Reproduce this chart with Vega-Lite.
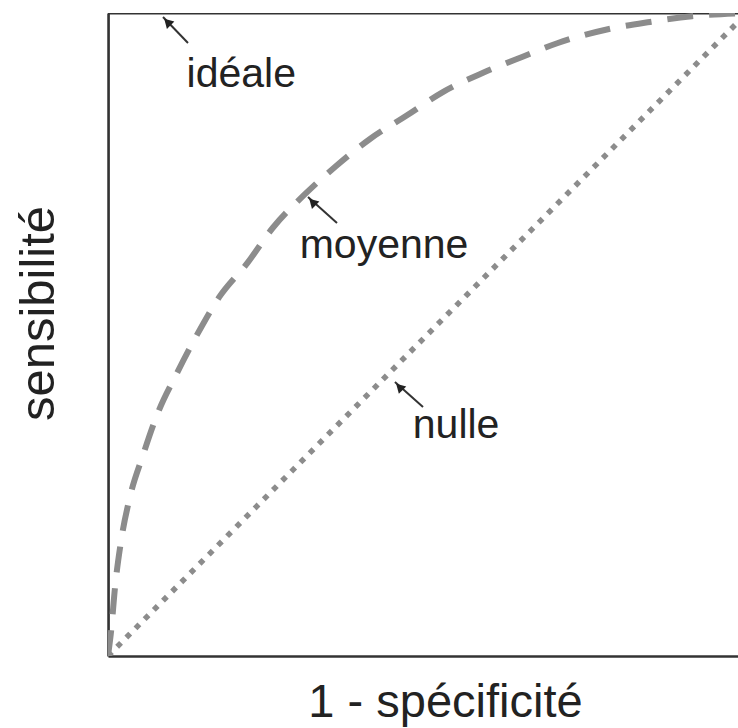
{
  "$schema": "https://vega.github.io/schema/vega-lite/v6.json",
  "width": 630,
  "height": 643,
  "autosize": {"type": "none"},
  "padding": {"left": 108, "top": 13, "right": 0, "bottom": 72},
  "background": "white",
  "config": {"view": {"stroke": null}},
  "datasets": {
    "curves": [
      {"s": "ideale", "o": 1, "x": 0, "y": 0},
      {"s": "ideale", "o": 2, "x": 0, "y": 1},
      {"s": "ideale", "o": 3, "x": 1, "y": 1},
      {"s": "nulle", "o": 1, "x": 0, "y": 0},
      {"s": "nulle", "o": 2, "x": 1, "y": 1},
      {"s": "moyenne", "o": 1, "x": 0, "y": 0},
      {"s": "moyenne", "o": 2, "x": 0.005, "y": 0.040},
      {"s": "moyenne", "o": 3, "x": 0.011, "y": 0.107},
      {"s": "moyenne", "o": 4, "x": 0.020, "y": 0.176},
      {"s": "moyenne", "o": 5, "x": 0.034, "y": 0.246},
      {"s": "moyenne", "o": 6, "x": 0.055, "y": 0.313},
      {"s": "moyenne", "o": 7, "x": 0.078, "y": 0.378},
      {"s": "moyenne", "o": 8, "x": 0.108, "y": 0.440},
      {"s": "moyenne", "o": 9, "x": 0.139, "y": 0.499},
      {"s": "moyenne", "o": 10, "x": 0.174, "y": 0.558},
      {"s": "moyenne", "o": 11, "x": 0.218, "y": 0.611},
      {"s": "moyenne", "o": 12, "x": 0.258, "y": 0.666},
      {"s": "moyenne", "o": 13, "x": 0.307, "y": 0.717},
      {"s": "moyenne", "o": 14, "x": 0.357, "y": 0.762},
      {"s": "moyenne", "o": 15, "x": 0.410, "y": 0.804},
      {"s": "moyenne", "o": 16, "x": 0.468, "y": 0.841},
      {"s": "moyenne", "o": 17, "x": 0.524, "y": 0.877},
      {"s": "moyenne", "o": 18, "x": 0.587, "y": 0.907},
      {"s": "moyenne", "o": 19, "x": 0.649, "y": 0.932},
      {"s": "moyenne", "o": 20, "x": 0.703, "y": 0.953},
      {"s": "moyenne", "o": 21, "x": 0.779, "y": 0.974},
      {"s": "moyenne", "o": 22, "x": 0.848, "y": 0.986},
      {"s": "moyenne", "o": 23, "x": 0.914, "y": 0.995},
      {"s": "moyenne", "o": 24, "x": 1, "y": 1}
    ],
    "labels": [
      {"label": "idéale", "x": 0.123, "y": 0.885},
      {"label": "moyenne", "x": 0.300, "y": 0.619},
      {"label": "nulle", "x": 0.477, "y": 0.339}
    ],
    "arrows": [
      {"x": 0.1252, "y": 0.9533, "x2": 0.0861, "y2": 0.9938, "hx": 0.0930, "hy": 0.9860},
      {"x": 0.3584, "y": 0.6734, "x2": 0.3130, "y2": 0.7138, "hx": 0.3200, "hy": 0.7060},
      {"x": 0.4930, "y": 0.3872, "x2": 0.4491, "y2": 0.4261, "hx": 0.4560, "hy": 0.4185}
    ]
  },
  "encoding": {
    "x": {
      "field": "x", "type": "quantitative",
      "scale": {"domain": [0, 0.986], "nice": false, "zero": false},
      "axis": {
        "title": "1 - spécificité", "ticks": false, "labels": false, "grid": false,
        "domainColor": "#333333", "domainWidth": 2.5,
        "titleFont": "Liberation Sans", "titleFontSize": 47, "titleFontWeight": "normal",
        "titleColor": "#222222", "titleX": 337, "titleY": 60,
        "titleBaseline": "alphabetic", "titleAlign": "center"
      }
    },
    "y": {
      "field": "y", "type": "quantitative",
      "scale": {"domain": [0, 1], "nice": false, "zero": false},
      "axis": {
        "title": "sensibilité", "ticks": false, "labels": false, "grid": false,
        "domainColor": "#333333", "domainWidth": 2.5,
        "titleFont": "Liberation Sans", "titleFontSize": 49, "titleFontWeight": "normal",
        "titleColor": "#222222", "titleX": -70, "titleY": 300,
        "titleBaseline": "middle", "titleAlign": "center", "titleAngle": -90
      }
    }
  },
  "layer": [
    {
      "data": {"name": "curves"},
      "transform": [{"filter": "datum.s === 'ideale'"}],
      "mark": {"type": "line", "color": "#333333", "strokeWidth": 3, "clip": true},
      "encoding": {"order": {"field": "o", "type": "quantitative"}}
    },
    {
      "data": {"name": "curves"},
      "transform": [{"filter": "datum.s === 'moyenne'"}],
      "mark": {"type": "line", "color": "#8c8c8c", "strokeWidth": 6, "strokeDash": [26, 16], "interpolate": "monotone", "clip": true},
      "encoding": {"order": {"field": "o", "type": "quantitative"}}
    },
    {
      "data": {"name": "curves"},
      "transform": [{"filter": "datum.s === 'nulle'"}],
      "mark": {"type": "line", "color": "#8c8c8c", "strokeWidth": 5.5, "strokeDash": [5.5, 7.5], "clip": true},
      "encoding": {"order": {"field": "o", "type": "quantitative"}}
    },
    {
      "data": {"name": "arrows"},
      "mark": {"type": "rule", "color": "#333333", "strokeWidth": 2},
      "encoding": {
        "x2": {"field": "x2"},
        "y2": {"field": "y2"}
      }
    },
    {
      "data": {"name": "arrows"},
      "mark": {"type": "point", "shape": "triangle-up", "filled": true, "color": "#222222", "size": 110, "angle": -45, "opacity": 1},
      "encoding": {
        "x": {"field": "hx", "type": "quantitative"},
        "y": {"field": "hy", "type": "quantitative"}
      }
    },
    {
      "data": {"name": "labels"},
      "mark": {"type": "text", "align": "left", "baseline": "alphabetic", "font": "Liberation Sans", "fontSize": 41, "color": "#222222"},
      "encoding": {"text": {"field": "label"}}
    }
  ]
}
